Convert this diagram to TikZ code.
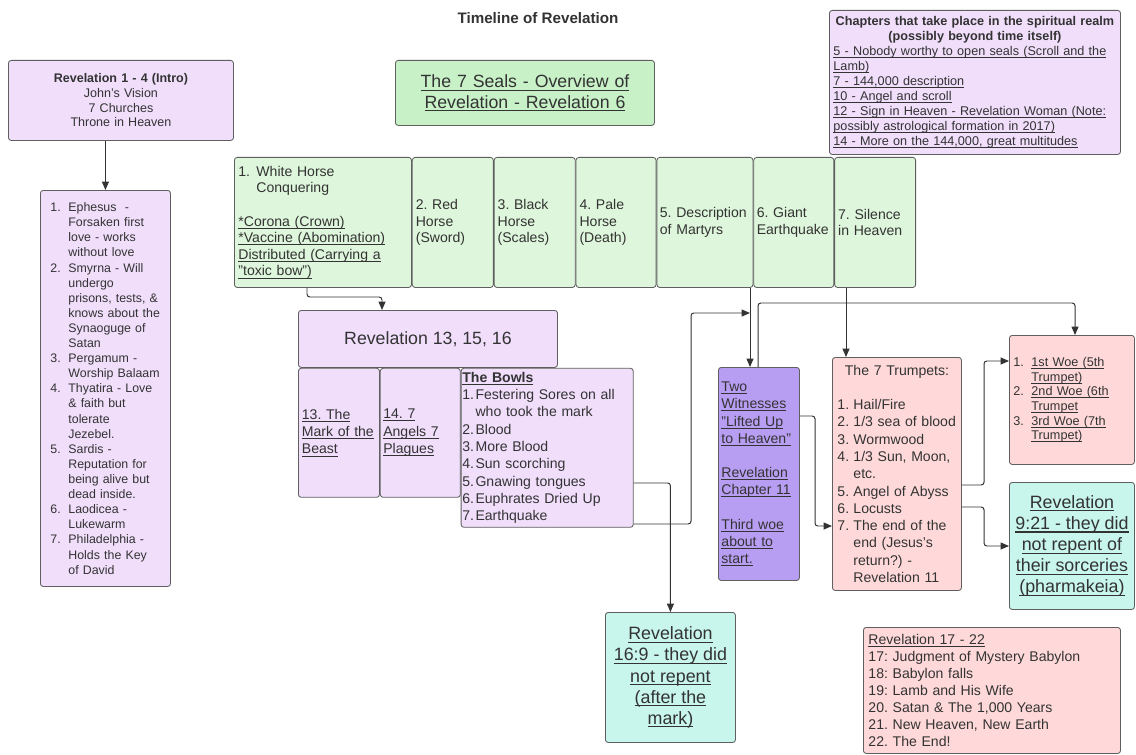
\documentclass[tikz,border=0pt]{standalone}
\usepackage{fontspec}
\setmainfont{Liberation Sans}
\usetikzlibrary{arrows.meta,positioning}

\definecolor{lav}{RGB}{240,222,251}
\definecolor{witness}{RGB}{184,158,243}
\definecolor{sealgreen}{RGB}{222,246,219}
\definecolor{titlegreen}{RGB}{200,241,200}
\definecolor{rose}{RGB}{255,217,217}
\definecolor{aqua}{RGB}{200,245,236}
\definecolor{edge}{RGB}{95,95,95}
\definecolor{ink}{RGB}{51,51,51}

\newlength{\numw}
\newcommand{\fsz}[2]{\fontsize{#1}{#2}\selectfont}
\newcommand{\lnum}[1]{\makebox[\numw][l]{#1}}
\newcommand{\lind}{\hspace*{\numw}}
\newcommand{\uln}[1]{\leavevmode\setbox0\hbox{#1}\rlap{\rule[-0.17em]{\wd0}{0.06em}}\box0}
\hyphenpenalty=10000
\exhyphenpenalty=10000

\begin{document}
\frenchspacing
\begin{tikzpicture}[
    x=0.025cm, y=-0.025cm,
    box/.style={rectangle, draw=edge, line width=0.6pt, rounded corners=2pt, text=ink, inner sep=0pt, anchor=north west},
    purp/.style={box, fill=lav},
    seal/.style={box, fill=sealgreen, minimum height=3.25cm, align=left, font=\fsz{10}{11.8}},
    pinkbox/.style={box, fill=rose},
    tealbox/.style={box, fill=aqua, align=center, font=\fsz{12.7}{15}},
    arr/.style={-{Triangle[length=6pt,width=5pt]}, draw=ink, line width=0.7pt, rounded corners=2pt}
]
\useasboundingbox (0,0) rectangle (1136,755);
\fill[white] (0,0) rectangle (1136,755);

\node[font=\bfseries\fsz{10.8}{13}, text=ink] (title) at (538,18) {Timeline of Revelation};

\node[purp, minimum width=5.625cm, minimum height=2cm, text width=5.4cm, align=center, font=\fsz{8.9}{10.4}] (intro) at (8,60)
  {\textbf{Revelation 1 - 4 (Intro)}\\John's Vision\\7 Churches\\Throne in Heaven};

\node[purp, minimum width=3.25cm, minimum height=9.9cm, text width=2.75cm, align=left, font=\fsz{8.8}{10.74}\setlength{\numw}{0.45cm}] (churches) at (40,190)
  {\lnum{1.}Ephesus~~-\\ \lind Forsaken first\\ \lind love - works\\ \lind without love\\
   \lnum{2.}Smyrna - Will\\ \lind undergo\\ \lind prisons, tests, \&\\ \lind knows about the\\ \lind Synaoguge of\\ \lind Satan\\
   \lnum{3.}Pergamum -\\ \lind Worship Balaam\\
   \lnum{4.}Thyatira - Love\\ \lind \& faith but\\ \lind tolerate\\ \lind Jezebel.\\
   \lnum{5.}Sardis -\\ \lind Reputation for\\ \lind being alive but\\ \lind dead inside.\\
   \lnum{6.}Laodicea -\\ \lind Lukewarm\\
   \lnum{7.}Philadelphia -\\ \lind Holds the Key\\ \lind of David};

\node[box, fill=titlegreen, minimum width=6.475cm, minimum height=1.625cm, text width=6.3cm, align=center, font=\fsz{12.6}{14.5}] (sevenseals) at (395,60)
  {\uln{The 7 Seals - Overview of}\\\uln{Revelation - Revelation 6}};

\node[purp, minimum width=7.275cm, minimum height=3.6cm, text width=7.075cm, align=left, font=\fsz{9}{10.7}] (spirit) at (829,10)
  {\makebox[\linewidth]{\bfseries Chapters that take place in the spiritual realm}\\
   \makebox[\linewidth]{\bfseries (possibly beyond time itself)}\\
   \uln{5 - Nobody worthy to open seals (Scroll and the}\\
   \uln{Lamb)}\\
   \uln{7 - 144,000 description}\\
   \uln{10 - Angel and scroll}\\
   \uln{12 - Sign in Heaven - Revelation Woman (Note:}\\
   \uln{possibly astrological formation in 2017)}\\
   \uln{14 - More on the 144,000, great multitudes}};

\node[seal, minimum width=4.425cm, text width=4.225cm, font=\fsz{10}{11.8}\setlength{\numw}{0.45cm}] (seal1) at (234,157)
  {\lnum{1.}White Horse\\ \lind Conquering\\[12pt]
   \uln{*Corona (Crown)}\\ \uln{*Vaccine (Abomination)}\\ \uln{Distributed (Carrying a}\\ \uln{"toxic bow")}};
\node[seal, right=0pt of seal1, minimum width=2.025cm, text width=1.85cm] (seal2) {2. Red\\Horse\\(Sword)};
\node[seal, right=0pt of seal2, minimum width=2.025cm, text width=1.85cm] (seal3) {3. Black\\Horse\\(Scales)};
\node[seal, right=0pt of seal3, minimum width=2cm, text width=1.825cm] (seal4) {4. Pale\\Horse\\(Death)};
\node[seal, right=0pt of seal4, minimum width=2.4cm, text width=2.25cm] (seal5) {5. Description\\of Martyrs};
\node[seal, right=0pt of seal5, minimum width=2cm, text width=1.85cm] (seal6) {6. Giant\\Earthquake};
\node[seal, right=0pt of seal6, minimum width=2.025cm, text width=1.85cm] (seal7) {7. Silence\\in Heaven};

\node[purp, minimum width=6.475cm, minimum height=1.425cm, align=center, font=\fsz{12.6}{14.5}] (rev13) at (298,310) {Revelation 13, 15, 16};
\node[purp, minimum width=2.025cm, minimum height=3.225cm, text width=1.85cm, align=left, font=\fsz{10}{12.3}] (ch13) at (rev13.south west)
  {\uln{13. The}\\\uln{Mark of the}\\\uln{Beast}};
\node[purp, minimum width=2cm, minimum height=3.225cm, text width=1.85cm, align=left, font=\fsz{10}{12.3}] (ch14) at (ch13.north east)
  {\uln{14. 7}\\\uln{Angels 7}\\\uln{Plagues}};
\node[purp, minimum width=4.3cm, minimum height=3.975cm, text width=4.24cm, align=left, font=\fsz{10}{12.3}\setlength{\numw}{0.33cm}] (bowls) at (ch14.north east)
  {\uln{\textbf{The Bowls}}\\
   \lnum{1.}Festering Sores on all\\ \lind who took the mark\\ \lnum{2.}Blood\\ \lnum{3.}More Blood\\
   \lnum{4.}Sun scorching\\ \lnum{5.}Gnawing tongues\\ \lnum{6.}Euphrates Dried Up\\ \lnum{7.}Earthquake};

\node[box, fill=witness, minimum width=2.025cm, minimum height=5.325cm, text width=1.875cm, align=left, font=\fsz{10}{12.3}] (wit) at (718,367)
  {\uln{Two}\\ \uln{Witnesses}\\ \uln{"Lifted Up}\\ \uln{to Heaven"}\\[12pt]
   \uln{Revelation}\\ \uln{Chapter 11}\\[12pt]
   \uln{Third woe}\\ \uln{about to}\\ \uln{start.}};

\node[pinkbox, minimum width=3.225cm, minimum height=5.825cm, text width=2.975cm, align=left, font=\fsz{10}{12.3}\setlength{\numw}{0.4cm}] (trp) at (832,357)
  {\makebox[\linewidth]{The 7 Trumpets:}\\[12pt]
   \lnum{1.}Hail/Fire\\ \lnum{2.}1/3 sea of blood\\ \lnum{3.}Wormwood\\ \lnum{4.}1/3 Sun, Moon,\\ \lind etc.\\
   \lnum{5.}Angel of Abyss\\ \lnum{6.}Locusts\\ \lnum{7.}The end of the\\ \lind end (Jesus's\\ \lind return?) -\\ \lind Revelation 11};

\node[pinkbox, minimum width=3.125cm, minimum height=3.225cm, text width=2.925cm, align=left, font=\fsz{9}{10.4}\setlength{\numw}{0.45cm}] (woes) at (1009,335)
  {\lnum{1.}\uln{1st Woe (5th}\\ \lind\uln{Trumpet)}\\
   \lnum{2.}\uln{2nd Woe (6th}\\ \lind\uln{Trumpet}\\
   \lnum{3.}\uln{3rd Woe (7th}\\ \lind\uln{Trumpet)}};

\node[tealbox, minimum width=3.125cm, minimum height=3.175cm] (r921) at (1009,482)
  {\uln{Revelation}\\\uln{9:21 - they did}\\\uln{not repent of}\\\uln{their sorceries}\\\uln{(pharmakeia)}};

\node[tealbox, minimum width=3.25cm, minimum height=3.25cm] (r169) at (605,612)
  {\uln{Revelation}\\\uln{16:9 - they did}\\\uln{not repent}\\\uln{(after the}\\\uln{mark)}};

\node[pinkbox, minimum width=6.425cm, minimum height=3.15cm, text width=6.175cm, align=left, font=\fsz{10}{12.1}] (r1722) at (863,627)
  {\uln{Revelation 17 - 22}\\ 17: Judgment of Mystery Babylon\\ 18: Babylon falls\\ 19: Lamb and His Wife\\
   20. Satan \& The 1,000 Years\\ 21. New Heaven, New Earth\\ 22. The End!};

\coordinate (join) at (750,313);

\draw[arr] (churches.north |- intro.south) -- (churches.north);
\draw[arr] (307,0 |- seal1.south) -- (307,297) -| (382,0 |- rev13.north);
\draw[arr] (bowls.east |- 0,483) -| (r169.north);
\draw[arr] (bowls.east |- 0,524) -- (691,524) |- (join);
\draw[arr] (750,0 |- seal6.south) -- (750,0 |- wit.north);
\draw[arr] (758,0 |- wit.north) -- (758,303) -| (1075,0 |- woes.north);
\draw[arr] (846,0 |- seal7.south) -- (846,0 |- trp.north);
\draw[arr] (wit.east |- 0,416) -- (815,416) |- (trp.west |- 0,526);
\draw[arr] (trp.east |- 0,485) -- (984,485) |- (woes.west |- 0,361);
\draw[arr] (trp.east |- 0,507) -- (984,507) |- (r921.west |- 0,546);
\end{tikzpicture}
\end{document}
